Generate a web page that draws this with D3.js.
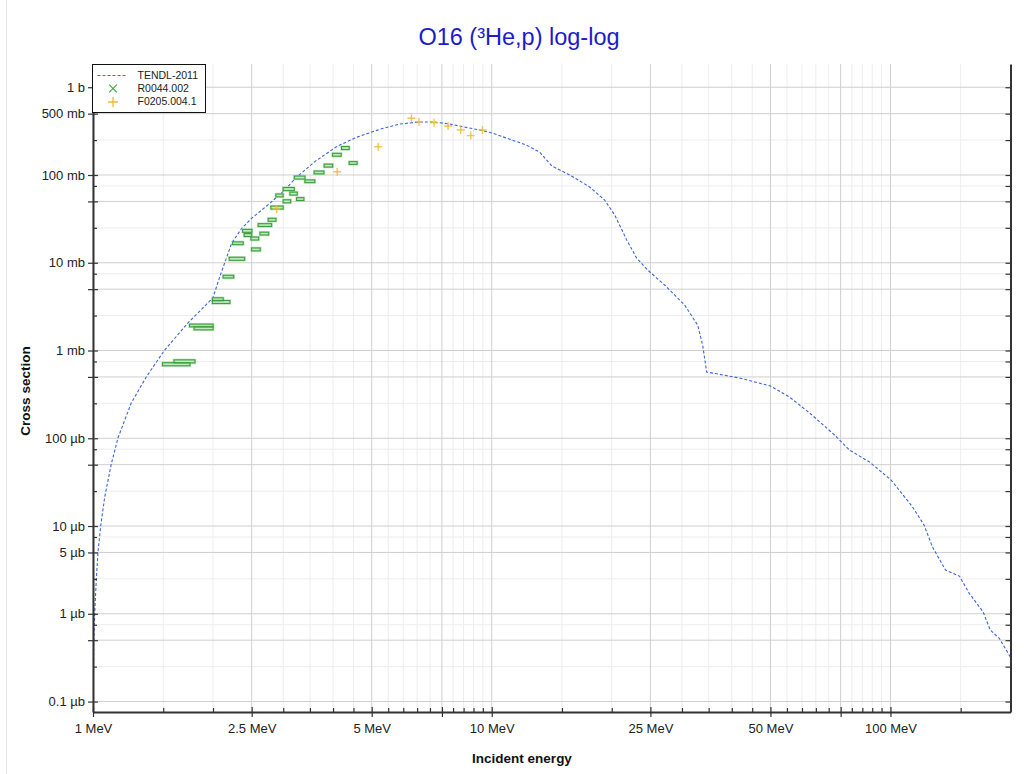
<!DOCTYPE html>
<html>
<head>
<meta charset="utf-8">
<script src="https://cdn.jsdelivr.net/npm/d3@7/dist/d3.min.js"></script>
<style>
    body { margin: 0; background: #fff; }
    text { font-family: 'Liberation Sans', Arial, sans-serif; }
    .grid_major { stroke: #cfcfcf; stroke-width: 1; }
    .grid_minor { stroke: #ededed; stroke-width: 1; }
    .xs_axis path { stroke: #333; stroke-width: 2; }
    .xs_axis line { stroke: #333; stroke-width: 1.2; }
    .xs_axis text { font-size: 13px; fill: #222; }
</style>
</head>
<body>
<svg id="chart" width="1024" height="774"></svg>
<script>

// TENDL-2011 evaluation (energy MeV, cross section mb)
const tendl_energy = [1.0, 1.004, 1.0099, 1.0192, 1.0293, 1.0454, 1.0699, 1.1113, 1.155, 1.247,
    1.36, 1.512, 1.73, 1.998, 2.08, 2.227, 2.36, 2.499, 2.777, 3.026, 3.237, 3.6, 4.078, 4.58,
    5.24, 5.88, 6.58, 7.14, 7.85, 8.46, 9.51, 10.06, 12.2, 13.19, 14.14, 15.69, 17.61, 19.19,
    20.34, 21.8, 23.09, 24.6, 27.14, 30.46, 32.84, 33.8, 34.6, 41.8, 50.0, 55.8, 62.7, 72.4,
    78.9, 88.6, 100.4, 113.5, 121.4, 127.4, 137.4, 148.9, 157.6, 170.8, 177.9, 187.5, 198.4, 200];
const tendl_xs = [6.0e-5, 4.2e-4, 1.02e-3, 2.43e-3, 5.06e-3, 0.0100, 0.0214, 0.0509, 0.1007, 0.252,
    0.499, 1.01, 2.06, 3.97, 6.93, 16.7, 24.7, 32.1, 47.6, 67.5, 94.2, 142, 210, 269,
    332, 381, 402, 402, 381, 355, 320, 299, 220, 182, 127, 100, 73, 51.9,
    35, 18.2, 11.3, 8.26, 5.58, 3.30, 1.95, 1.155, 0.569, 0.486, 0.394, 0.295, 0.194, 0.109,
    0.0735, 0.0536, 0.0334, 0.0166, 0.01026, 5.8e-3, 3.15e-3, 2.69e-3, 1.71e-3, 1.05e-3, 6.53e-4, 5.25e-4, 3.39e-4, 3.2e-4];

// EXFOR R0044.002 : energy, half energy width, xs, xs error
const r0044_energy = [1.622, 1.699, 1.873, 1.897, 2.057, 2.099, 2.187, 2.298, 2.31, 2.438,
    2.447, 2.546, 2.563, 2.70, 2.69, 2.813, 2.896, 2.937, 3.065, 3.098,
    3.185, 3.31, 3.30, 3.50, 3.69, 3.895, 4.09, 4.295, 4.494];
const r0044_denergy = [0.128, 0.103, 0.127, 0.104, 0.064, 0.106, 0.066, 0.102, 0.071, 0.066,
    0.053, 0.057, 0.064, 0.105, 0.068, 0.063, 0.103, 0.062, 0.066, 0.099,
    0.068, 0.07, 0.102, 0.101, 0.104, 0.095, 0.102, 0.095, 0.104];
const r0044_xs = [0.698, 0.753, 1.93, 1.79, 3.84, 3.57, 6.95, 11.1, 16.7, 23.1,
    20.7, 18.9, 14.2, 26.9, 21.5, 30.9, 42.6, 58.6, 50.2, 69.2,
    61.4, 53.2, 93.6, 84.9, 107, 128, 170, 203, 137];
const r0044_dxs = [0.028, 0.03, 0.07, 0.07, 0.15, 0.14, 0.25, 0.45, 0.6, 0.9,
    0.8, 0.75, 0.55, 1.0, 0.8, 1.2, 1.7, 2.2, 2.0, 2.8,
    2.4, 2.0, 3.7, 3.0, 4.0, 5.0, 6.5, 8.0, 5.0];

// EXFOR F0205.004.1
const f0205_energy = [2.887, 4.096, 5.19, 6.29, 6.57, 7.17, 7.77, 8.36, 8.86, 9.48];
const f0205_xs = [41.0, 109, 210, 443, 405, 394, 361, 326, 281, 326];

// axis ticks
const x_major = [1, 2.5, 5, 7.5, 10, 25, 50, 75, 100];
const x_minor = [1.5, 2, 3, 3.5, 4, 4.5, 5.5, 6, 6.5, 7, 8, 8.5, 9, 9.5,
    15, 20, 30, 35, 40, 45, 55, 60, 65, 70, 80, 85, 90, 95, 150];
const x_labelled = [1, 2.5, 5, 10, 25, 50, 100];
const y_major = [1000, 500, 100, 50, 10, 5, 1, 0.5, 0.1, 0.05, 0.01, 0.005, 0.001, 0.0005, 0.0001];
const y_minor = [250, 75, 25, 7.5, 2.5, 0.75, 0.25, 0.075, 0.025, 0.0075, 0.0025, 0.00075, 0.00025];
const y_labelled = [1000, 500, 100, 10, 1, 0.1, 0.01, 0.005, 0.001, 0.0001];

const legend_names = ['TENDL-2011', 'R0044.002', 'F0205.004.1'];


class CrossSectionPlot {

    constructor(svg) {
        this.svg = svg;
        this.left = 93;
        this.right = 1010.5;
        this.top = 64;
        this.bottom = 712;

        this.x = d3.scaleLog().domain([1, 200]).range([this.left, this.right]);
        this.y = d3.scaleLog().domain([7.6e-5, 1840]).range([this.bottom, this.top]);
    }

    draw() {
        this.svg.html('');

        // faint panel edge on the left
        this.svg.append('line')
            .attr('x1', 6.5).attr('x2', 6.5)
            .attr('y1', 0).attr('y2', 774)
            .style('stroke', '#e6e6e6');

        this.svg.append('defs').append('clipPath')
            .attr('id', 'plot_clip')
            .append('rect')
            .attr('x', this.left).attr('y', this.top)
            .attr('width', this.right - this.left)
            .attr('height', this.bottom - this.top);

        this.draw_grid();
        this.draw_data();
        this.draw_axes();
        this.draw_legend();
        this.draw_titles();
    }

    draw_grid() {
        let g = this.svg.append('g');

        //vertical grid
        g.selectAll('.gx_minor').data(x_minor).enter().append('line')
            .attr('class', 'grid_minor')
            .attr('x1', (d) => this.x(d)).attr('x2', (d) => this.x(d))
            .attr('y1', this.top).attr('y2', this.bottom);
        g.selectAll('.gy_minor').data(y_minor).enter().append('line')
            .attr('class', 'grid_minor')
            .attr('x1', this.left).attr('x2', this.right)
            .attr('y1', (d) => this.y(d)).attr('y2', (d) => this.y(d));

        g.selectAll('.gx_major').data(x_major).enter().append('line')
            .attr('class', 'grid_major')
            .attr('x1', (d) => this.x(d)).attr('x2', (d) => this.x(d))
            .attr('y1', this.top).attr('y2', this.bottom);
        g.selectAll('.gy_major').data(y_major).enter().append('line')
            .attr('class', 'grid_major')
            .attr('x1', this.left).attr('x2', this.right)
            .attr('y1', (d) => this.y(d)).attr('y2', (d) => this.y(d));
    }

    draw_data() {
        let g = this.svg.append('g').attr('clip-path', 'url(#plot_clip)');

        //TENDL curve
        let curve = tendl_energy.map((e, i) => [e, tendl_xs[i]]);
        let line = d3.line()
            .x((d) => this.x(d[0]))
            .y((d) => this.y(d[1]));

        g.append('path')
            .datum(curve)
            .attr('d', line)
            .style('fill', 'none')
            .style('stroke', '#3d63dd')
            .style('stroke-width', 1.1)
            .style('stroke-dasharray', '3,2');

        //R0044 error boxes
        let boxes = r0044_energy.map((e, i) => ({
            x0: e - r0044_denergy[i], x1: e + r0044_denergy[i],
            y0: r0044_xs[i] + r0044_dxs[i], y1: r0044_xs[i] - r0044_dxs[i]
        }));

        g.selectAll('.r0044_halo').data(boxes).enter().append('rect')
            .attr('x', (d) => this.x(d.x0))
            .attr('y', (d) => this.y(d.y0))
            .attr('width', (d) => this.x(d.x1) - this.x(d.x0))
            .attr('height', (d) => this.y(d.y1) - this.y(d.y0))
            .style('fill', '#d6f0d6')
            .style('stroke', '#8fd08f')
            .style('stroke-width', 2.4)
            .style('stroke-opacity', 0.6);

        g.selectAll('.r0044_box').data(boxes).enter().append('rect')
            .attr('x', (d) => this.x(d.x0))
            .attr('y', (d) => this.y(d.y0))
            .attr('width', (d) => this.x(d.x1) - this.x(d.x0))
            .attr('height', (d) => this.y(d.y1) - this.y(d.y0))
            .style('fill', 'none')
            .style('stroke', '#3a9c3a')
            .style('stroke-width', 1);

        //F0205 crosses
        let s = 4;
        let plus = g.selectAll('.f0205').data(f0205_energy).enter().append('g')
            .attr('transform', (d, i) => 'translate(' + this.x(d) + ',' + this.y(f0205_xs[i]) + ')')
            .style('stroke', '#f0b83a')
            .style('stroke-width', 1.4)
            .style('stroke-opacity', 0.85);
        plus.append('line').attr('x1', -s).attr('x2', s);
        plus.append('line').attr('y1', -s).attr('y2', s);
    }

    y_label(v) {
        if (!y_labelled.includes(v)) return '';
        if (v >= 1000) return (v / 1000) + ' b';
        if (v >= 1) return v + ' mb';
        return (+(v * 1000).toPrecision(3)) + ' µb';
    }

    draw_axes() {
        let b = this.bottom, l = this.left, r = this.right;

        //bottom axis, major ticks cross the line
        let xb = this.svg.append('g')
            .attr('class', 'xs_axis')
            .attr('transform', 'translate(0,' + b + ')')
            .call(d3.axisBottom(this.x).tickValues(x_major).tickSize(5).tickSizeOuter(0).tickPadding(7)
                .tickFormat((d) => x_labelled.includes(d) ? d + ' MeV' : ''));
        xb.selectAll('.tick line').attr('y1', -5);

        this.svg.append('g')
            .attr('class', 'xs_axis')
            .attr('transform', 'translate(0,' + b + ')')
            .call(d3.axisTop(this.x).tickValues(x_minor).tickSize(4).tickSizeOuter(0).tickFormat(''))
            .select('.domain').remove();

        //left axis
        let yl = this.svg.append('g')
            .attr('class', 'xs_axis')
            .attr('transform', 'translate(' + l + ',0)')
            .call(d3.axisLeft(this.y).tickValues(y_major).tickSize(5).tickSizeOuter(0).tickPadding(3)
                .tickFormat((d) => this.y_label(d)));
        yl.selectAll('.tick line').attr('x1', 5);

        this.svg.append('g')
            .attr('class', 'xs_axis')
            .attr('transform', 'translate(' + l + ',0)')
            .call(d3.axisRight(this.y).tickValues(y_minor).tickSize(4).tickSizeOuter(0).tickFormat(''))
            .select('.domain').remove();

        //right axis, ticks inward
        this.svg.append('g')
            .attr('class', 'xs_axis')
            .attr('transform', 'translate(' + r + ',0)')
            .call(d3.axisLeft(this.y).tickValues(y_major.concat(y_minor)).tickSize(5).tickSizeOuter(0).tickFormat(''));
    }

    draw_legend() {
        let lg = this.svg.append('g').attr('transform', 'translate(92.5,64.5)');

        lg.append('rect')
            .attr('width', 113)
            .attr('height', 48)
            .style('fill', '#fff')
            .style('stroke', '#111')
            .style('stroke-width', 1);

        lg.selectAll('.legend_text').data(legend_names).enter().append('text')
            .text((d) => d)
            .attr('x', 45)
            .attr('y', (d, i) => 14.5 + i * 13)
            .style('font-size', '10.5px')
            .style('fill', '#222');

        lg.append('line')
            .attr('x1', 5).attr('x2', 34).attr('y1', 11).attr('y2', 11)
            .style('stroke', '#3d63dd')
            .style('stroke-dasharray', '3,2');

        let c = 20.5, s = 3.8;
        lg.append('path')
            .attr('d', `M${c - s},${24 - s}L${c + s},${24 + s}M${c - s},${24 + s}L${c + s},${24 - s}`)
            .style('stroke', '#3aa93a')
            .style('stroke-width', 1.1);
        lg.append('path')
            .attr('d', `M${c - 5},37.5H${c + 5}M${c},32.5V42.5`)
            .style('stroke', '#f0b83a')
            .style('stroke-width', 1.3);
    }

    draw_titles() {
        this.svg.append('text')
            .text('O16 (³He,p) log-log')
            .attr('x', 519)
            .attr('y', 44.5)
            .attr('text-anchor', 'middle')
            .style('font-size', '23.5px')
            .style('fill', '#1c1ccc');

        this.svg.append('text')
            .text('Incident energy')
            .attr('x', 522)
            .attr('y', 763)
            .attr('text-anchor', 'middle')
            .style('font-size', '13.5px')
            .style('font-weight', 'bold')
            .style('fill', '#111');

        this.svg.append('text')
            .text('Cross section')
            .attr('transform', 'translate(30,391) rotate(-90)')
            .attr('text-anchor', 'middle')
            .style('font-size', '13.5px')
            .style('font-weight', 'bold')
            .style('fill', '#111');
    }
}

let plot = new CrossSectionPlot(d3.select('#chart'));
plot.draw();

</script>
</body>
</html>
